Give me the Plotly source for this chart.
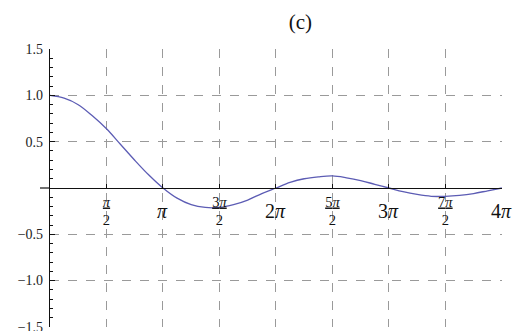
import math
import plotly.graph_objects as go

# Curve samples: x in eighths of pi, y values
x_eighths = [0, 1, 2, 3, 4, 5, 6, 7, 8, 9, 10, 11, 12, 13, 14, 15, 16,
             17, 18, 19, 20, 21, 22, 23, 24, 25, 26, 27, 28, 29, 30, 31, 32]
y_values = [1.00, 0.97, 0.90, 0.78, 0.64, 0.47, 0.30, 0.14, 0.00,
            -0.11, -0.18, -0.21, -0.21, -0.18, -0.13, -0.06, 0.00,
            0.06, 0.10, 0.12, 0.13, 0.11, 0.08, 0.04, 0.00,
            -0.04, -0.07, -0.09, -0.09, -0.08, -0.06, -0.03, 0.00]

# Axis ticks: half-multiples of pi get stacked fractions on the axis,
# whole multiples get larger labels placed under their ticks
x_tick_halfpis = [1, 2, 3, 4, 5, 6, 7, 8]
x_frac_labels = ['<u><i>π</i></u><br>2', '',
                 '<u>3<i>π</i></u><br>2', '',
                 '<u>5<i>π</i></u><br>2', '',
                 '<u>7<i>π</i></u><br>2', '']
x_whole_halfpis = [2, 4, 6, 8]
x_whole_labels = ['<i>π</i>', '2<i>π</i>', '3<i>π</i>', '4<i>π</i>']
y_tick_vals = [-1.5, -1.0, -0.5, 0.5, 1.0, 1.5]
y_tick_labels = ["−1.5", "−1.0", "−0.5", "0.5", "1.0", "1.5"]

xs = [k * math.pi / 8 for k in x_eighths]
x_tick_vals = [h * math.pi / 2 for h in x_tick_halfpis]
x_whole_vals = [h * math.pi / 2 for h in x_whole_halfpis]

fig = go.Figure()
fig.add_trace(go.Scatter(
    x=xs, y=y_values, mode="lines",
    line=dict(color="#5c5cb4", width=1.3, shape="spline", smoothing=1.0),
    showlegend=False, hoverinfo="skip",
))

grid = dict(showgrid=True, gridcolor="#9a9a9a", gridwidth=1, griddash="dash")

annotations = [
    dict(x=xv, y=0, xref="x", yref="y", text=lab, showarrow=False,
         xanchor="center", yanchor="top", yshift=-10,
         font=dict(size=20, color="#111",
                   family="Liberation Serif, Times New Roman, serif"))
    for xv, lab in zip(x_whole_vals, x_whole_labels)
]

fig.update_layout(
    width=517, height=331,
    margin=dict(l=50, r=15, t=49, b=4),
    paper_bgcolor="white", plot_bgcolor="white",
    font=dict(family="Liberation Serif, Times New Roman, serif", color="#222"),
    title=dict(text="(c)", font=dict(size=21, color="#111",
                                     family="Liberation Serif, serif"),
               xref="container", yref="container", x=0.581, y=0.935,
               xanchor="center", yanchor="middle"),
    xaxis=dict(
        range=[0, 4 * math.pi + 0.004], tickmode="array",
        tickvals=x_tick_vals, ticktext=x_frac_labels,
        anchor="free", position=0.5, automargin=False,
        showline=True, linecolor="#111", linewidth=1.2,
        ticks="inside", ticklen=4, tickcolor="#111",
        zeroline=False, tickfont=dict(size=14.5, color="#111"),
        ticklabelstandoff=0, ticklabeloverflow="allow",
        **grid,
    ),
    yaxis=dict(
        range=[-1.502, 1.502], tickmode="array",
        tickvals=y_tick_vals, ticktext=y_tick_labels,
        automargin=False,
        showline=True, linecolor="#111", linewidth=1.2,
        ticks="inside", ticklen=5, tickcolor="#111",
        minor=dict(dtick=0.1, tick0=0, ticks="inside", ticklen=3,
                   tickcolor="#111", showgrid=False),
        zeroline=False, tickfont=dict(size=14, color="#222"),
        ticklabelstandoff=3, ticklabeloverflow="allow",
        **grid,
    ),
    annotations=annotations,
    shapes=[dict(type="line", xref="paper", yref="y",
                 x0=-10 / 452, x1=0, y0=0, y1=0,
                 line=dict(color="#111", width=1.2))],
)

fig.write_html("out.html")
